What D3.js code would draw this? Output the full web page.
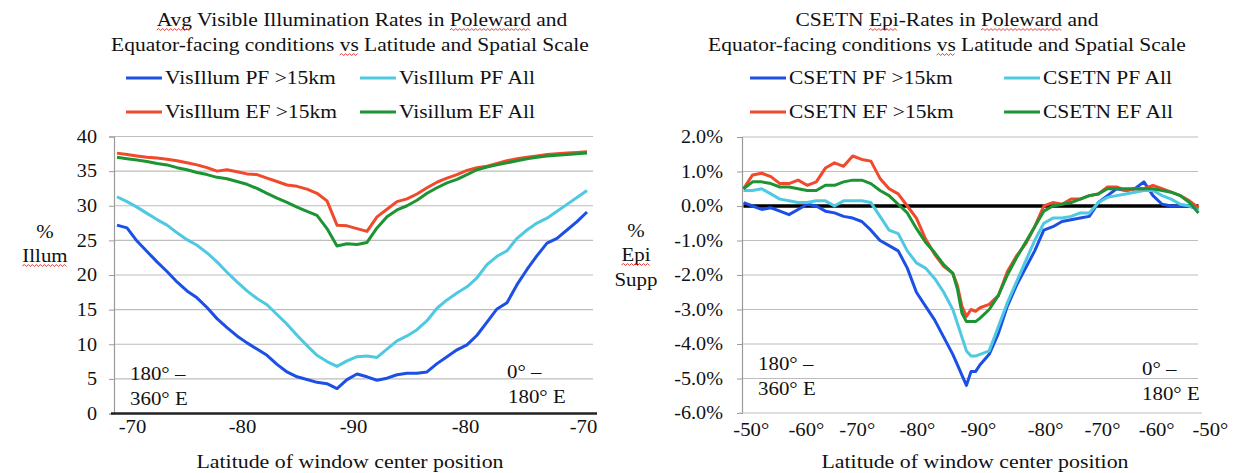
<!DOCTYPE html>
<html><head><meta charset="utf-8">
<script src="https://cdn.jsdelivr.net/npm/d3@7/dist/d3.min.js"></script>
<style>
body{margin:0;background:#fff}
svg{display:block}
text{font-family:"Liberation Serif","Times New Roman",serif;fill:#111}
</style>
</head><body>
<svg id="c" width="1234" height="473"></svg>
<script>
// ---------------- DATA ----------------
// Left chart: window index along the path -70 -> -90 -> -70
const illumPos = [0,1,2,3,4,5,6,7,8,9,10,11,12,13,14,15,16,17,18,19,20,21,22,23,24,25,26,27,28,29,30,31,32,33,34,35,36,37,38,39,40,41,42,43,44,45,46,47];
const visPF15 = [27.2,26.8,24.9,23.4,21.9,20.5,19.0,17.7,16.7,15.3,13.7,12.4,11.2,10.2,9.3,8.4,7.1,6.0,5.3,4.9,4.5,4.3,3.6,4.9,5.7,5.3,4.8,5.1,5.6,5.8,5.8,6.0,7.2,8.2,9.2,9.9,11.3,13.2,15.1,16.0,18.6,20.8,22.8,24.6,25.3,26.5,27.7,29.1];
const visPFAll = [31.3,30.6,29.8,28.9,28.0,27.2,26.1,25.1,24.3,23.2,21.9,20.4,19.0,17.7,16.6,15.7,14.3,12.9,11.3,9.8,8.4,7.5,6.8,7.6,8.2,8.3,8.1,9.3,10.5,11.2,12.1,13.4,15.2,16.4,17.4,18.3,19.6,21.5,22.7,23.5,25.3,26.5,27.5,28.2,29.2,30.2,31.2,32.2];
const visEF15 = [37.6,37.4,37.2,37.0,36.9,36.7,36.5,36.2,35.9,35.5,35.0,35.2,34.9,34.6,34.5,34.0,33.5,33.0,32.8,32.4,31.8,30.7,27.2,27.1,26.7,26.3,28.4,29.5,30.6,31.0,31.7,32.6,33.4,34.0,34.5,35.1,35.5,35.7,36.1,36.5,36.8,37.0,37.2,37.4,37.5,37.6,37.7,37.8];
const visEFAll = [37.0,36.8,36.6,36.4,36.1,35.9,35.5,35.2,34.8,34.5,34.1,33.9,33.5,33.1,32.5,31.8,31.1,30.5,29.8,29.2,28.6,26.7,24.2,24.5,24.4,24.7,26.8,28.4,29.4,30.0,30.8,31.8,32.6,33.3,33.8,34.5,35.2,35.6,35.9,36.2,36.5,36.8,37.0,37.2,37.3,37.4,37.5,37.6];
const illumTickPos = [1.5,12.5,23.6,34.8,46.6];
const illumTickLabels = ["-70","-80","-90","-80","-70"];
const illumYTicks = [0,5,10,15,20,25,30,35,40];
const illumNames = ["VisIllum PF >15km","VisIllum PF All","VisIllum EF >15km","Visillum  EF All"];

// Right chart: position along the path -50 -> -90 -> -50 (0..100)
const epiPos = [0,2,4,6,8,10,12,14,16,18,20,22,24,26,28,30,32,34,36,38,40,42,44,46,47,48,49,50,51,52,54,56,58,60,62,64,66,68,70,72,74,76,78,80,82,84,86,88,90,92,94,96,98,100];
const csetnPF15 = [0.1,0.0,-0.1,-0.05,-0.15,-0.25,-0.1,0.05,0.0,-0.15,-0.2,-0.3,-0.35,-0.45,-0.7,-1.0,-1.15,-1.3,-1.8,-2.5,-2.9,-3.3,-3.8,-4.3,-4.6,-4.9,-5.2,-4.8,-4.8,-4.6,-4.3,-3.7,-2.9,-2.3,-1.8,-1.3,-0.7,-0.6,-0.45,-0.4,-0.35,-0.3,0.1,0.3,0.5,0.45,0.5,0.7,0.3,0.05,0.0,0.0,0.0,-0.1];
const csetnPFAll = [0.45,0.45,0.5,0.35,0.2,0.15,0.1,0.1,0.15,0.15,0.0,0.15,0.15,0.15,0.1,-0.3,-0.7,-0.8,-1.3,-1.65,-1.8,-2.1,-2.5,-3.0,-3.4,-3.8,-4.2,-4.35,-4.35,-4.3,-4.2,-3.5,-2.8,-2.2,-1.6,-1.0,-0.5,-0.35,-0.35,-0.3,-0.2,-0.2,0.1,0.25,0.3,0.35,0.4,0.45,0.45,0.3,0.2,0.05,0.0,-0.1];
const csetnEF15 = [0.5,0.9,0.95,0.85,0.65,0.65,0.75,0.6,0.7,1.1,1.25,1.15,1.45,1.35,1.3,0.8,0.5,0.35,0.0,-0.35,-0.95,-1.4,-1.75,-1.95,-2.3,-2.9,-3.2,-3.0,-3.05,-2.95,-2.85,-2.6,-1.9,-1.45,-1.1,-0.6,0.0,0.1,0.05,0.2,0.2,0.3,0.35,0.55,0.55,0.45,0.5,0.5,0.6,0.5,0.4,0.3,0.15,-0.05];
const csetnEFAll = [0.5,0.7,0.7,0.65,0.55,0.55,0.5,0.45,0.45,0.6,0.6,0.7,0.75,0.75,0.65,0.45,0.3,0.05,-0.2,-0.65,-1.05,-1.35,-1.7,-1.95,-2.4,-3.1,-3.35,-3.35,-3.35,-3.25,-3.0,-2.6,-2.0,-1.5,-1.05,-0.6,-0.15,0.0,0.05,0.1,0.2,0.3,0.35,0.5,0.5,0.5,0.5,0.5,0.5,0.45,0.4,0.3,0.1,-0.2];
const zeroLinePos = [0,100];
const zeroLineVal = [0,0];
const epiTickPos = [1.6,13.7,24.9,38.1,51.5,66.3,78.8,90.7,102.5];
const epiTickLabels = ["-50°","-60°","-70°","-80°","-90°","-80°","-70°","-60°","-50°"];
const epiYTicks = [2,1,0,-1,-2,-3,-4,-5,-6];
const epiNames = ["CSETN PF >15km","CSETN PF All","CSETN EF >15km","CSETN EF All"];

const colors = ["#1c4fe6","#4fc9e2","#f0492b","#1d9433"];

// ---------------- DRAWING ----------------
const svg = d3.select("#c");
const FS = 19;
const STRETCH = 1.13;

function stretch(sel, k) {
  sel.each(function () {
    const n = this.getComputedTextLength();
    d3.select(this).attr("textLength", n * k).attr("lengthAdjust", "spacingAndGlyphs");
  });
}

function squiggle(textNode, word) {
  const s = textNode.textContent;
  const i = s.indexOf(word);
  if (i < 0) return;
  const x0 = textNode.getStartPositionOfChar(i).x;
  const x1 = textNode.getEndPositionOfChar(i + word.length - 1).x;
  const y = textNode.getStartPositionOfChar(i).y + 4;
  let d = `M${x0},${y}`;
  let up = true;
  for (let x = x0 + 2; x <= x1; x += 2) { d += `L${x},${up ? y - 1.5 : y + 0.5}`; up = !up; }
  svg.append("path").attr("d", d).attr("fill", "none").attr("stroke", "#e23a3a").attr("stroke-width", 1);
}

function chart(cfg) {
  const g = svg.append("g");
  const x = d3.scaleLinear().domain(cfg.xDomain).range(cfg.xRange);
  const y = d3.scaleLinear().domain(cfg.yDomain).range([cfg.plot.bottom, cfg.plot.top]);

  // gridlines
  g.append("g").selectAll("line").data(cfg.yTicks.filter(v => v !== cfg.yDomain[0]))
    .join("line")
    .attr("x1", cfg.plot.left).attr("x2", cfg.plot.right)
    .attr("y1", d => y(d)).attr("y2", d => y(d))
    .attr("stroke", "#bdbdbd").attr("stroke-width", 1.2);

  // y axis
  const ya = g.append("g").attr("transform", `translate(${cfg.plot.left},0)`)
    .call(d3.axisLeft(y).tickValues(cfg.yTicks).tickFormat(cfg.yFormat).tickSize(5).tickPadding(cfg.yPad));
  ya.attr("font-family", null);
  ya.select(".domain").attr("stroke", "#9a9a9a").attr("stroke-width", 1.2);
  ya.selectAll(".tick line").attr("stroke", "#9a9a9a");
  ya.selectAll("text").attr("font-size", 18).attr("fill", "#111").call(stretch, 1.12);

  // x baseline
  g.append("line").attr("x1", cfg.plot.left - 3).attr("x2", cfg.plot.right + 4)
    .attr("y1", cfg.plot.bottom).attr("y2", cfg.plot.bottom)
    .attr("stroke", cfg.baseColor).attr("stroke-width", cfg.baseWidth);

  // x axis labels
  const xa = g.append("g").attr("transform", `translate(0,${cfg.plot.bottom})`)
    .call(d3.axisBottom(x).tickValues(cfg.xTicks).tickFormat((d, i) => cfg.xLabels[i]).tickSize(0).tickPadding(cfg.xPad));
  xa.attr("font-family", null);
  xa.select(".domain").remove();
  xa.selectAll("text").attr("font-size", 18).attr("fill", "#111").call(stretch, 1.15);

  // zero line
  if (cfg.zero) {
    const zl = d3.line().x((d, i) => x(cfg.zero.pos[i])).y(d => y(d));
    g.append("path").datum(cfg.zero.val).attr("d", zl).attr("fill", "none")
      .attr("stroke", "#000").attr("stroke-width", 3.5);
  }

  // series
  const line = d3.line().x((d, i) => x(cfg.pos[i])).y(d => y(d));
  cfg.series.forEach((s, k) => {
    g.append("path").datum(s).attr("d", line).attr("fill", "none")
      .attr("stroke", colors[k]).attr("stroke-width", 3).attr("stroke-linejoin", "round");
  });

  // titles
  const t1 = g.append("text").attr("x", cfg.titleX[0]).attr("y", cfg.titleY[0]).attr("text-anchor", "middle")
    .attr("font-size", FS).text(cfg.title[0]).call(stretch, STRETCH);
  const t2 = g.append("text").attr("x", cfg.titleX[1]).attr("y", cfg.titleY[1]).attr("text-anchor", "middle")
    .attr("font-size", FS).text(cfg.title[1]).call(stretch, STRETCH);
  cfg.titleSquig[0].forEach(w => squiggle(t1.node(), w));
  cfg.titleSquig[1].forEach(w => squiggle(t2.node(), w));

  // legend
  cfg.names.forEach((n, k) => {
    const lx = cfg.legX[k % 2], ly = cfg.legY[Math.floor(k / 2)];
    g.append("line").attr("x1", lx).attr("x2", lx + 36).attr("y1", ly).attr("y2", ly)
      .attr("stroke", colors[k]).attr("stroke-width", 3);
    g.append("text").attr("x", lx + 39).attr("y", ly + 6).attr("font-size", FS).text(n).call(stretch, 1.13);
  });

  // y title
  cfg.yTitle.forEach((t, k) => {
    const tt = g.append("text").attr("x", cfg.yTitleX).attr("y", cfg.yTitleY[k]).attr("text-anchor", "middle")
      .attr("font-size", 19).text(t).call(stretch, 1.1);
    if (cfg.yTitleSquig[k]) squiggle(tt.node(), t);
  });

  // x title
  g.append("text").attr("x", cfg.xTitleX).attr("y", 468).attr("text-anchor", "middle")
    .attr("font-size", 19).text("Latitude of window center position").call(stretch, 1.15);

  // hemisphere annotations
  cfg.notes.forEach(n => {
    g.append("text").attr("x", n[0]).attr("y", n[1]).attr("font-size", 19).text(n[2]).call(stretch, 1.1);
  });
}

chart({
  pos: illumPos, series: [visPF15, visPFAll, visEF15, visEFAll],
  xDomain: [0, 47], xRange: [117, 587],
  yDomain: [0, 40], yTicks: illumYTicks, yFormat: d3.format("d"), yPad: 12,
  plot: {left: 114, right: 593, top: 136.5, bottom: 413.5},
  xTicks: illumTickPos, xLabels: illumTickLabels, xPad: 7,
  baseColor: "#222", baseWidth: 2.5,
  title: ["Avg Visible Illumination Rates in Poleward and", "Equator-facing conditions vs Latitude and Spatial Scale"],
  titleSquig: [["Avg", "Poleward"], ["vs"]],
  titleX: [362, 350], titleY: [26, 51],
  names: illumNames, legX: [126, 360], legY: [78, 112],
  yTitle: ["%", "Illum"], yTitleX: 45, yTitleY: [238, 262], yTitleSquig: [false, true],
  xTitleX: 350,
  notes: [[130, 380, "180° –"], [130, 405, "360° E"], [507, 378, "0° –"], [508, 403, "180° E"]]
});

chart({
  pos: epiPos, series: [csetnPF15, csetnPFAll, csetnEF15, csetnEFAll],
  zero: {pos: zeroLinePos, val: zeroLineVal},
  xDomain: [0, 100], xRange: [743.5, 1198.5],
  yDomain: [-6, 2], yTicks: epiYTicks, yFormat: v => v.toFixed(1) + "%", yPad: 14,
  plot: {left: 742, right: 1198, top: 137, bottom: 413},
  xTicks: epiTickPos, xLabels: epiTickLabels, xPad: 10,
  baseColor: "#bdbdbd", baseWidth: 1.2,
  title: ["CSETN Epi-Rates in Poleward and", "Equator-facing conditions vs Latitude and Spatial Scale"],
  titleSquig: [["Epi", "Poleward"], ["vs"]],
  titleX: [947, 947], titleY: [26, 51],
  names: epiNames, legX: [750, 1004], legY: [78, 112],
  yTitle: ["%", "Epi", "Supp"], yTitleX: 636, yTitleY: [237, 261, 286], yTitleSquig: [false, true, false],
  xTitleX: 975,
  notes: [[758, 370, "180° –"], [758, 395, "360° E"], [1142, 375, "0° –"], [1142, 400, "180° E"]]
});
</script>
</body></html>
